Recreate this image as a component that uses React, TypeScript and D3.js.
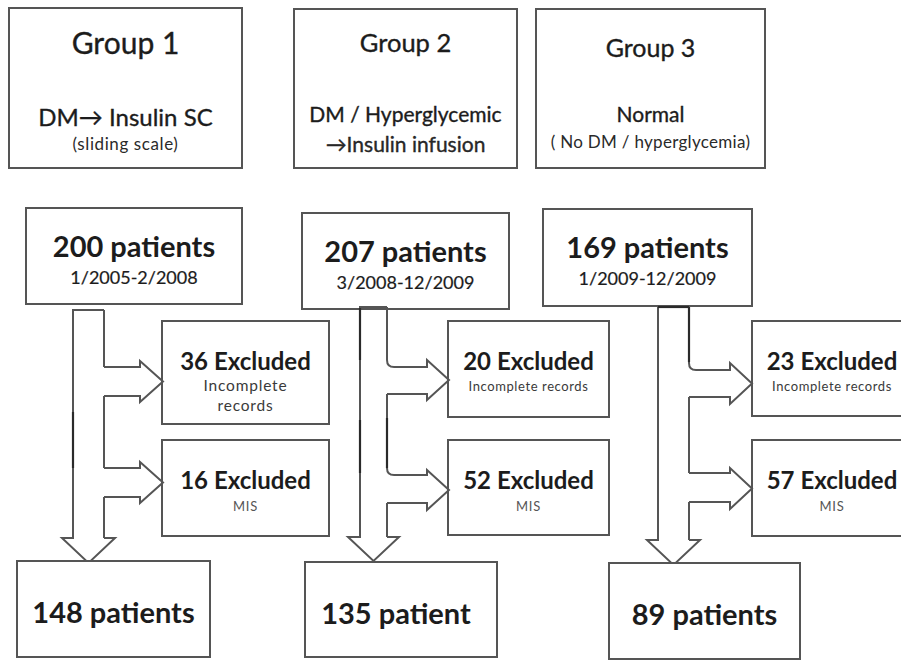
import React from "react";
import * as d3 from "d3";

// ---- data ----
const groupTitles = ["Group 1", "Group 2", "Group 3"];
const groupDescLine1 = ["DM\u2192 Insulin SC", "DM / Hyperglycemic", "Normal"];
const groupDescLine2 = ["(sliding scale)", "\u2192Insulin infusion", "( No DM / hyperglycemia)"];
const totalPatients = ["200 patients", "207 patients", "169 patients"];
const periods = ["1/2005-2/2008", "3/2008-12/2009", "1/2009-12/2009"];
const excludedIncomplete = ["36 Excluded", "20 Excluded", "23 Excluded"];
const incompleteLabels = [["Incomplete", "records"], ["Incomplete records"], ["Incomplete records"]];
const excludedMIS = ["16 Excluded", "52 Excluded", "57 Excluded"];
const misLabel = "MIS";
const finalPatients = ["148 patients", "135 patient", "89 patients"];

// ---- layout (positions and styles only) ----
type Box = { x: number; y: number; w: number; h: number };
type Side = { y1: number; y2: number; headX: number; tipX: number; top: number; bot: number; curved: boolean };
type Seg = [number, number, number, number];
type Col = {
  group: Box; total: Box;
  shaft: { x0: number; x1: number; top: number; headY: number; headL: number; headR: number; tip: number };
  sides: Side[]; excl: Box[]; final: Box; dark: Seg[];
  titleSize: number; titleY: number; d1Size: number; d1Y: number; d2Size: number; d2Y: number; d2Spacing: number;
  exclSmall: number; exclSpacing: number; finalDx: number;
};
const layout: Col[] = [
  {
    group: { x: 9, y: 8, w: 233, h: 160 },
    total: { x: 26, y: 208, w: 216, h: 96 },
    shaft: { x0: 73, x1: 104, top: 310, headY: 538, headL: 62, headR: 115, tip: 563 },
    sides: [
      { y1: 367, y2: 396, headX: 140, tipX: 163, top: 361, bot: 402, curved: false },
      { y1: 468, y2: 497, headX: 140, tipX: 163, top: 462, bot: 503, curved: false },
    ],
    excl: [{ x: 162, y: 321, w: 167, h: 103 }, { x: 162, y: 440, w: 167, h: 96 }],
    final: { x: 17, y: 561, w: 193, h: 96 },
    dark: [[73, 412, 73, 468]],
    titleSize: 30, titleY: 46, d1Size: 24, d1Y: 118, d2Size: 17, d2Y: 142, d2Spacing: 0.6,
    exclSmall: 15.5, exclSpacing: 0.8, finalDx: 0,
  },
  {
    group: { x: 294, y: 9, w: 223, h: 159 },
    total: { x: 302, y: 213, w: 207, h: 96 },
    shaft: { x0: 360, x1: 387, top: 307, headY: 537, headL: 348, headR: 399, tip: 561 },
    sides: [
      { y1: 367, y2: 394, headX: 427, tipX: 449, top: 360, bot: 400, curved: true },
      { y1: 475, y2: 503, headX: 427, tipX: 449, top: 470, bot: 510, curved: true },
    ],
    excl: [{ x: 448, y: 321, w: 161, h: 96 }, { x: 448, y: 440, w: 161, h: 95 }],
    final: { x: 305, y: 562, w: 192, h: 95 },
    dark: [[360, 308, 360, 360], [360, 420, 360, 473], [387, 418, 387, 468]],
    titleSize: 25.5, titleY: 43, d1Size: 21, d1Y: 113, d2Size: 21, d2Y: 143, d2Spacing: 0,
    exclSmall: 13, exclSpacing: 0.6, finalDx: -5,
  },
  {
    group: { x: 536, y: 9, w: 229, h: 159 },
    total: { x: 543, y: 209, w: 209, h: 97 },
    shaft: { x0: 658, x1: 689, top: 307, headY: 540, headL: 647, headR: 700, tip: 565 },
    sides: [
      { y1: 370, y2: 397, headX: 730, tipX: 752, top: 363, bot: 404, curved: true },
      { y1: 473, y2: 502, headX: 730, tipX: 752, top: 468, bot: 509, curved: false },
    ],
    excl: [{ x: 752, y: 321, w: 160, h: 95 }, { x: 752, y: 440, w: 160, h: 96 }],
    final: { x: 609, y: 563, w: 191, h: 96 },
    dark: [[658, 307, 689, 307], [689, 307, 689, 362]],
    titleSize: 25, titleY: 48, d1Size: 21, d1Y: 113, d2Size: 17, d2Y: 139, d2Spacing: 0.3,
    exclSmall: 13, exclSpacing: 0.6, finalDx: 0,
  },
];

const FONT = "Lato, 'Open Sans', sans-serif";
const TXT = "#1c1c1c";
const LINE = "#555";
const R = 7;

function sidePath(c: Col, sd: Side): string {
  const x1 = c.shaft.x1;
  const p = d3.path();
  if (sd.curved) {
    p.moveTo(x1, sd.y1 - R);
    p.quadraticCurveTo(x1, sd.y1, x1 + R, sd.y1);
  } else {
    p.moveTo(x1, sd.y1);
  }
  p.lineTo(sd.headX, sd.y1);
  p.lineTo(sd.headX, sd.top);
  p.lineTo(sd.tipX, (sd.top + sd.bot) / 2);
  p.lineTo(sd.headX, sd.bot);
  p.lineTo(sd.headX, sd.y2);
  p.lineTo(x1, sd.y2);
  return p.toString();
}

function rightEdge(c: Col): string {
  const s = c.shaft;
  const p = d3.path();
  const sides = [...c.sides].sort((a, b) => a.y1 - b.y1);
  let y = s.top;
  sides.forEach((sd) => {
    p.moveTo(s.x1, y);
    p.lineTo(s.x1, sd.y1 - (sd.curved ? R : 0));
    y = sd.y2;
  });
  p.moveTo(s.x1, y);
  p.lineTo(s.x1, s.headY);
  return p.toString();
}

function leftAndHead(c: Col): string {
  const s = c.shaft;
  const p = d3.path();
  p.moveTo(s.x1, s.top);
  p.lineTo(s.x0, s.top);
  p.lineTo(s.x0, s.headY);
  p.lineTo(s.headL, s.headY);
  p.lineTo((s.headL + s.headR) / 2, s.tip);
  p.lineTo(s.headR, s.headY);
  p.lineTo(s.x1, s.headY);
  return p.toString();
}

const Rect = ({ b }: { b: Box }) => (
  <rect x={b.x} y={b.y} width={b.w} height={b.h} fill="#fff" stroke={LINE} strokeWidth={2} />
);

const REG = { fill: TXT, stroke: TXT, strokeWidth: 0.35 } as const;

export default function App() {
  return (
    <svg
      width={901}
      height={660}
      style={{ position: "absolute", left: 0, top: 0, background: "#fff" }}
      fontFamily={FONT}
    >
      <rect x={0} y={0} width={901} height={660} fill="#fff" />
      {layout.map((c, i) => {
        const g = c.group;
        const gx = g.x + g.w / 2;
        const t = c.total;
        const tx = t.x + t.w / 2;
        const f = c.final;
        return (
          <g key={i}>
            <Rect b={g} />
            <text x={gx} y={g.y + c.titleY} textAnchor="middle" fontSize={c.titleSize} {...REG}>
              {groupTitles[i]}
            </text>
            <text x={gx} y={g.y + c.d1Y} textAnchor="middle" fontSize={c.d1Size} {...REG}>
              {groupDescLine1[i]}
            </text>
            <text
              x={gx}
              y={g.y + c.d2Y}
              textAnchor="middle"
              fontSize={c.d2Size}
              letterSpacing={c.d2Spacing}
              fill="#2a2a2a"
              stroke={c.d2Spacing ? "none" : TXT}
              strokeWidth={0.35}
            >
              {groupDescLine2[i]}
            </text>

            <Rect b={t} />
            <text x={tx} y={t.y + 49} textAnchor="middle" fontSize={29} fontWeight={700} fill={TXT}>
              {totalPatients[i]}
            </text>
            <text x={tx} y={t.y + 76} textAnchor="middle" fontSize={18} {...REG} strokeWidth={0.2}>
              {periods[i]}
            </text>

            {c.excl.map((b, k) => {
              const bx = b.x + b.w / 2;
              return (
                <g key={k}>
                  <Rect b={b} />
                  <text x={bx} y={b.y + 49} textAnchor="middle" fontSize={24} fontWeight={700} fill={TXT}>
                    {k === 0 ? excludedIncomplete[i] : excludedMIS[i]}
                  </text>
                  {k === 0 ? (
                    incompleteLabels[i].map((l, m) => (
                      <text
                        key={m}
                        x={bx}
                        y={b.y + 70 + m * 20}
                        textAnchor="middle"
                        fontSize={c.exclSmall}
                        letterSpacing={c.exclSpacing}
                        fill="#3a3a3a"
                      >
                        {l}
                      </text>
                    ))
                  ) : (
                    <text x={bx} y={b.y + 71} textAnchor="middle" fontSize={13} letterSpacing={0.8} fill="#555">
                      {misLabel}
                    </text>
                  )}
                </g>
              );
            })}

            <path d={leftAndHead(c)} fill="none" stroke={LINE} strokeWidth={2} strokeLinejoin="miter" />
            <path d={rightEdge(c)} fill="none" stroke={LINE} strokeWidth={2} />
            {c.sides.map((sd, k) => (
              <path key={k} d={sidePath(c, sd)} fill="none" stroke={LINE} strokeWidth={2} />
            ))}
            {c.dark.map((s, k) => (
              <line key={k} x1={s[0]} y1={s[1]} x2={s[2]} y2={s[3]} stroke="#2a2a2a" strokeWidth={2.2} />
            ))}

            <Rect b={f} />
            <text x={f.x + f.w / 2 + c.finalDx} y={f.y + 62} textAnchor="middle" fontSize={29} fontWeight={700} fill={TXT}>
              {finalPatients[i]}
            </text>
          </g>
        );
      })}
    </svg>
  );
}
